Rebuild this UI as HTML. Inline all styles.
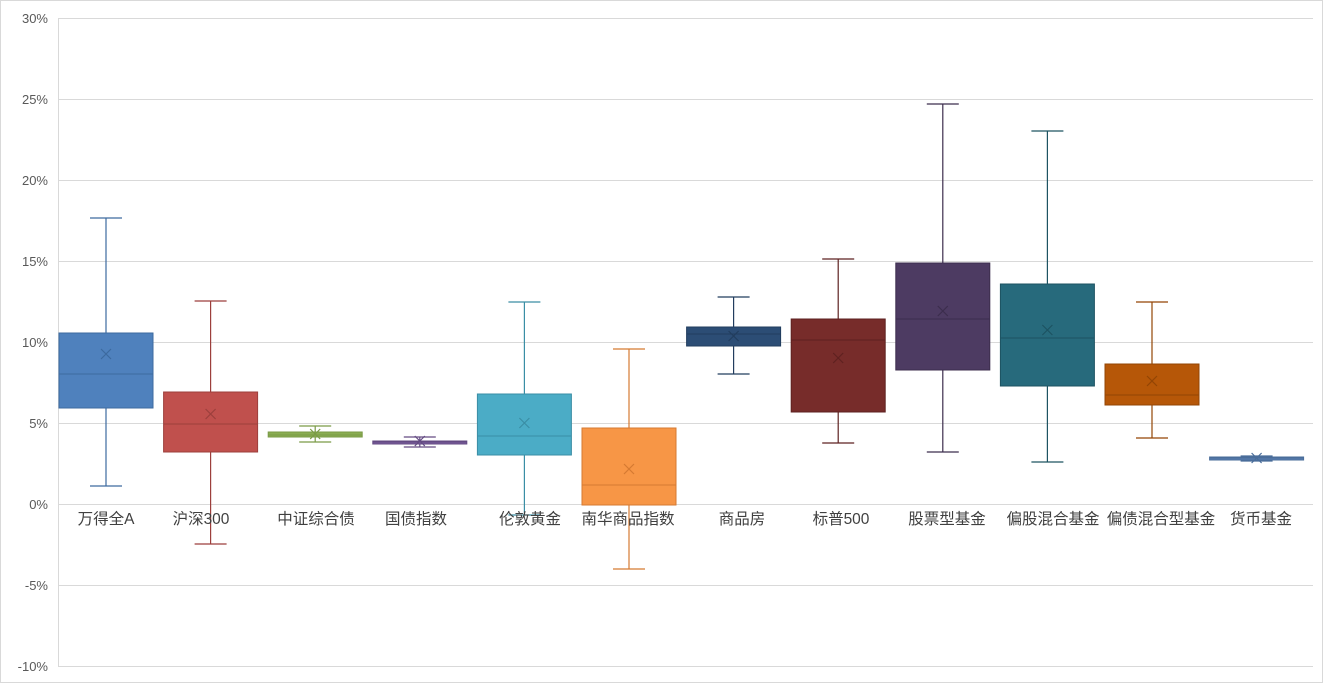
<!DOCTYPE html>
<html><head><meta charset="utf-8"><style>body{margin:0;background:#fff}svg{display:block}</style></head><body>
<svg width="1329" height="684" xmlns="http://www.w3.org/2000/svg" font-family="Liberation Sans, Noto Sans CJK SC, sans-serif">
<rect x="0.5" y="0.5" width="1322" height="682" fill="#fff" stroke="#d9d9d9"/>
<g stroke="#d9d9d9" stroke-width="1">
<line x1="58" x2="1313" y1="18.5" y2="18.5"/><line x1="58" x2="1313" y1="99.5" y2="99.5"/>
<line x1="58" x2="1313" y1="180.5" y2="180.5"/><line x1="58" x2="1313" y1="261.5" y2="261.5"/>
<line x1="58" x2="1313" y1="342.5" y2="342.5"/><line x1="58" x2="1313" y1="423.5" y2="423.5"/>
<line x1="58" x2="1313" y1="504.5" y2="504.5"/><line x1="58" x2="1313" y1="585.5" y2="585.5"/>
<line x1="58" x2="1313" y1="666.5" y2="666.5"/><line x1="58.5" x2="58.5" y1="18" y2="666"/>
</g>
<g font-size="13" fill="#595959" text-anchor="end">
<text x="48" y="23">30%</text><text x="48" y="104">25%</text><text x="48" y="185">20%</text>
<text x="48" y="266">15%</text><text x="48" y="347">10%</text><text x="48" y="428">5%</text>
<text x="48" y="509">0%</text><text x="48" y="590">-5%</text><text x="48" y="671">-10%</text>
</g>
<g id="boxes"></g>
<g font-size="15.5" fill="#404040" text-anchor="middle" id="labels"></g>
<script>
var d=[
["万得全A",218,333,374,408,486,354,"#4f81bd","#3d6a9f",106],
["沪深300",301,392,424,452,544,414,"#c0504d","#9c3f3c",201],
["中证综合债",426,432,435,437,442,434,"#8aad52","#7a9a46",316],
["国债指数",437,441,442,444,447,441,"#7b5f9e","#634a82",416],
["伦敦黄金",302,394,436,455,515,423,"#4bacc6","#3a8ea5",530],
["南华商品指数",349,428,485,505,569,469,"#f79646","#d57a32",628],
["商品房",297,327,334,346,374,336,"#2c4d75","#223d5e",742],
["标普500",259,319,340,412,443,358,"#772c2a","#5e2120",841],
["股票型基金",104,263,319,370,452,311,"#4d3b62","#3c2d4d",947],
["偏股混合基金",131,284,338,386,462,330,"#276a7c","#1d5362",1053],
["偏债混合型基金",302,364,395,405,438,381,"#b65708","#934505",1161],
["货币基金",456,457,458,459,461,458,"#5b80b2","#4a6d9a",1261]];
var ns="http://www.w3.org/2000/svg",g=document.getElementById("boxes"),L=document.getElementById("labels");
function el(t,a,p){var e=document.createElementNS(ns,t);for(var k in a)e.setAttribute(k,a[k]);(p||g).appendChild(e);return e;}
d.forEach(function(r,i){var c=106+i*104.6,w=47,cw=16;
el("line",{x1:c,x2:c,y1:r[1],y2:r[5],stroke:r[8],"stroke-width":1.2});
el("line",{x1:c-cw,x2:c+cw,y1:r[1],y2:r[1],stroke:r[8],"stroke-width":1.2});
el("line",{x1:c-cw,x2:c+cw,y1:r[5],y2:r[5],stroke:r[8],"stroke-width":1.2});
var h=Math.max(r[4]-r[2],3);
el("rect",{x:c-w,y:r[2],width:2*w,height:h,fill:r[7],stroke:r[8],"stroke-width":1});
el("line",{x1:c-w,x2:c+w,y1:r[3],y2:r[3],stroke:r[8],"stroke-width":1});
var m=r[6];el("path",{d:"M"+(c-5)+" "+(m-5)+"L"+(c+5)+" "+(m+5)+"M"+(c+5)+" "+(m-5)+"L"+(c-5)+" "+(m+5),stroke:r[8],"stroke-width":1.2,fill:"none"});
var t=el("text",{x:r[9],y:524},L);t.textContent=r[0];});
</script>
</svg>
</body></html>
